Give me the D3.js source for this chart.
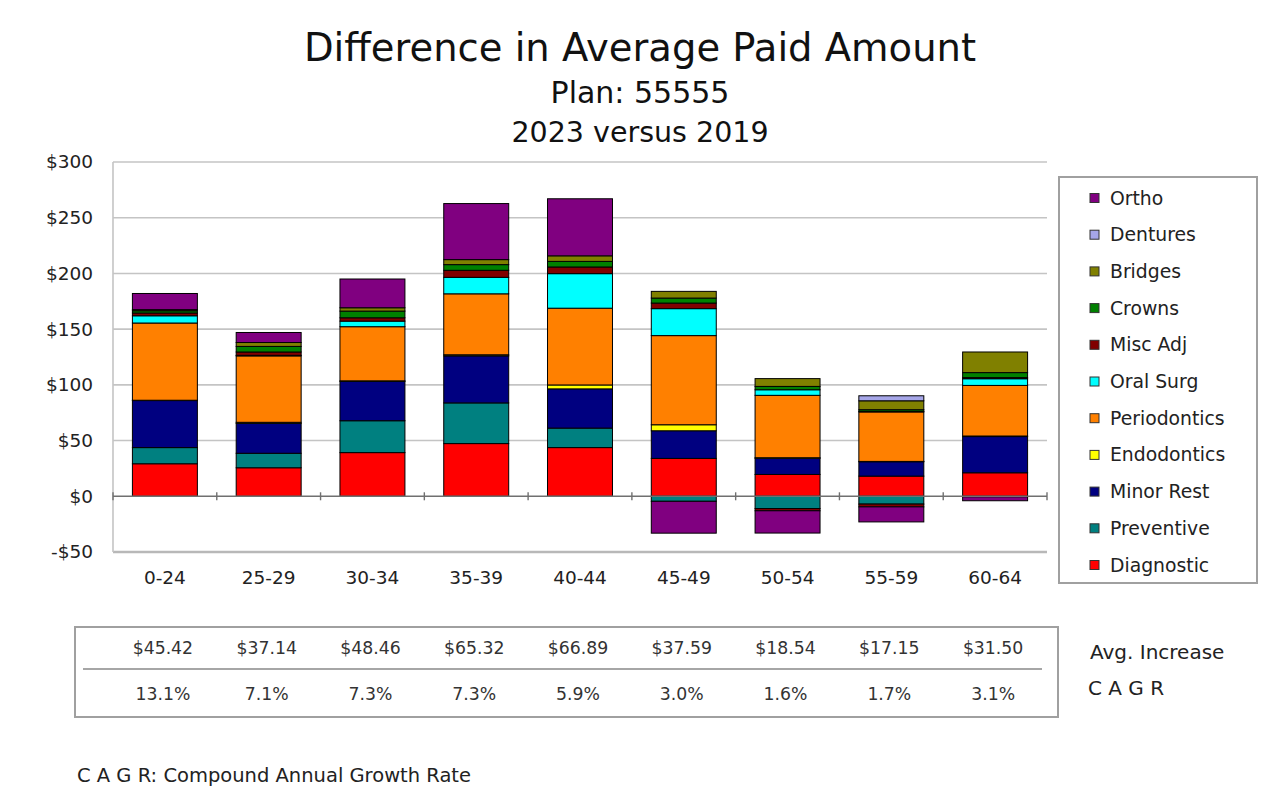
<!DOCTYPE html>
<html>
<head>
<meta charset="utf-8">
<script src="https://cdn.jsdelivr.net/npm/d3@7"></script>
<style>
  html, body { margin: 0; padding: 0; background: #fff; }
  svg { display: block; font-family: "DejaVu Sans", Verdana, sans-serif; }
</style>
</head>
<body>
<svg id="chart" width="1280" height="803"></svg>
<script>
// ---------- DATA ----------
const categories = ["0-24","25-29","30-34","35-39","40-44","45-49","50-54","55-59","60-64"];
const seriesNames = ["Diagnostic","Preventive","Minor Rest","Endodontics","Periodontics","Oral Surg","Misc Adj","Crowns","Bridges","Dentures","Ortho"];
const diagnostic   = [29.2, 25.6, 39.2, 47.3, 43.7, 34.0, 19.6, 18.1, 21.1];
const preventive   = [14.5, 13.0, 28.6, 36.5, 17.5, -4.5, -11.0, -7.0, -0.5];
const minorRest    = [42.2, 26.8, 35.3, 42.2, 35.2, 24.8, 14.5, 12.9, 32.5];
const endodontics  = [0.3, 1.0, 0.5, 1.0, 3.5, 5.4, 0.5, 0.3, 0.5];
const periodontics = [69.3, 59.6, 48.6, 54.7, 68.9, 80.0, 56.0, 44.4, 45.4];
const oralSurg     = [6.5, 0.5, 5.0, 14.8, 31.0, 24.2, 5.0, 0.5, 6.0];
const miscAdj      = [2.5, 3.0, 3.0, 6.3, 6.0, 5.0, -2.0, -2.5, 1.0];
const crowns       = [2.0, 5.0, 6.0, 5.1, 5.0, 4.5, 3.0, 1.5, 4.5];
const bridges      = [1.0, 3.5, 3.0, 4.5, 5.0, 6.0, 7.0, 8.0, 18.5];
const dentures     = [0, 0, 0, 0, 0, 0, 0, 4.5, 0];
const ortho        = [14.5, 9.0, 25.8, 50.3, 51.2, -28.6, -20.0, -13.5, -3.5];
const seriesValues = [diagnostic, preventive, minorRest, endodontics, periodontics, oralSurg, miscAdj, crowns, bridges, dentures, ortho];
const seriesColors = ["#FF0000","#008080","#000080","#FFFF00","#FF8000","#00FFFF","#800000","#008000","#808000","#A6A6E8","#800080"];
const yTicks = [-50, 0, 50, 100, 150, 200, 250, 300];
const avgIncrease = ["$45.42","$37.14","$48.46","$65.32","$66.89","$37.59","$18.54","$17.15","$31.50"];
const cagr = ["13.1%","7.1%","7.3%","7.3%","5.9%","3.0%","1.6%","1.7%","3.1%"];

// ---------- LAYOUT ----------
const svg = d3.select("#chart");
const plot = { left: 113, right: 1047, top: 162, bottom: 552 };
const textColor = "#222";

const x = d3.scaleBand().domain(categories).range([plot.left, plot.right]).paddingInner(0.374).paddingOuter(0.187);
const y = d3.scaleLinear().domain([-50, 300]).range([plot.bottom, plot.top]);

// Titles
svg.append("text").attr("x", 640).attr("y", 61).attr("text-anchor", "middle")
  .attr("font-size", 38.5).attr("fill", "#111").text("Difference in Average Paid Amount");
svg.append("text").attr("x", 640).attr("y", 103).attr("text-anchor", "middle")
  .attr("font-size", 30).attr("fill", "#111").text("Plan: 55555");
svg.append("text").attr("x", 640).attr("y", 142).attr("text-anchor", "middle")
  .attr("font-size", 28.5).attr("fill", "#111").text("2023 versus 2019");

// Gridlines
svg.append("g").selectAll("line").data(yTicks.filter(d => d !== 0)).join("line")
  .attr("x1", plot.left).attr("x2", plot.right)
  .attr("y1", d => y(d)).attr("y2", d => y(d))
  .attr("stroke", d => d === -50 ? "#b8b8b8" : "#c4c4c4")
  .attr("stroke-width", d => d === -50 ? 2.5 : 1.6);
// left axis line
svg.append("line").attr("x1", plot.left).attr("x2", plot.left)
  .attr("y1", plot.top).attr("y2", plot.bottom).attr("stroke", "#c4c4c4").attr("stroke-width", 1.6);

// Y axis labels
const yAxis = d3.axisLeft(y).tickValues(yTicks).tickSize(0).tickPadding(0)
  .tickFormat(d => (d < 0 ? "-$" : "$") + Math.abs(d));
const yg = svg.append("g").attr("transform", `translate(${93},0)`).call(yAxis);
yg.select(".domain").remove();
yg.selectAll("text").attr("font-size", 18.5).attr("fill", textColor)
  .attr("font-family", "DejaVu Sans, Verdana, sans-serif");

// Stacked bars
const rows = categories.map((c, i) => {
  const r = { cat: c };
  seriesNames.forEach((s, k) => r[s] = seriesValues[k][i]);
  return r;
});
const stack = d3.stack().keys(seriesNames).offset(d3.stackOffsetDiverging).order(d3.stackOrderNone);
const layers = stack(rows);

const gBars = svg.append("g");
layers.forEach((layer, k) => {
  gBars.append("g").selectAll("rect").data(layer.filter(d => d[1] !== d[0])).join("rect")
    .attr("x", d => x(d.data.cat))
    .attr("width", x.bandwidth())
    .attr("y", d => y(Math.max(d[0], d[1])))
    .attr("height", d => Math.abs(y(d[0]) - y(d[1])))
    .attr("fill", seriesColors[k])
    .attr("stroke", "#000").attr("stroke-width", 1);
});

// Zero axis with tick marks at category boundaries
svg.append("line").attr("x1", plot.left).attr("x2", plot.right)
  .attr("y1", y(0)).attr("y2", y(0)).attr("stroke", "#707070").attr("stroke-width", 1.6);
const boundaries = categories.map(c => x(c) - x.step() * x.paddingInner() / 2).concat([plot.right]);
svg.append("g").selectAll("line").data(boundaries).join("line")
  .attr("x1", d => d).attr("x2", d => d)
  .attr("y1", y(0) - 4).attr("y2", y(0) + 4)
  .attr("stroke", "#707070").attr("stroke-width", 1.4);

// X axis labels
const xAxis = d3.axisBottom(x).tickSize(0).tickPadding(0);
const xg = svg.append("g").attr("transform", `translate(0,${578})`).call(xAxis);
xg.select(".domain").remove();
xg.selectAll("text").attr("font-size", 18.5).attr("fill", textColor)
  .attr("font-family", "DejaVu Sans, Verdana, sans-serif").attr("dy", "0.35em");

// Legend
const legend = svg.append("g");
legend.append("rect").attr("x", 1059).attr("y", 177).attr("width", 198).attr("height", 406)
  .attr("fill", "#fff").attr("stroke", "#a0a0a0").attr("stroke-width", 2);
const legendOrder = seriesNames.map((s, k) => k).reverse();
legendOrder.forEach((k, i) => {
  const ly = 198 + i * 36.7;
  legend.append("rect").attr("x", 1090).attr("y", ly - 4.5).attr("width", 9).attr("height", 9)
    .attr("fill", seriesColors[k]).attr("stroke", "#333").attr("stroke-width", 1);
  legend.append("text").attr("x", 1110).attr("y", ly).attr("dy", "0.35em")
    .attr("font-size", 18.8).attr("fill", textColor).text(seriesNames[k]);
});

// Table
const table = svg.append("g");
table.append("rect").attr("x", 75).attr("y", 627).attr("width", 983).attr("height", 90)
  .attr("fill", "none").attr("stroke", "#a0a0a0").attr("stroke-width", 2);
table.append("line").attr("x1", 83).attr("x2", 1042).attr("y1", 669).attr("y2", 669)
  .attr("stroke", "#888").attr("stroke-width", 1.6);
table.append("g").selectAll("text").data(categories).join("text")
  .attr("x", d => x(d) + x.bandwidth() / 2 - 2).attr("y", 648).attr("dy", "0.35em")
  .attr("text-anchor", "middle").attr("font-size", 17.3).attr("fill", "#333")
  .text((d, i) => avgIncrease[i]);
table.append("g").selectAll("text").data(categories).join("text")
  .attr("x", d => x(d) + x.bandwidth() / 2 - 2).attr("y", 694).attr("dy", "0.35em")
  .attr("text-anchor", "middle").attr("font-size", 17.3).attr("fill", "#333")
  .text((d, i) => cagr[i]);
svg.append("text").attr("x", 1090).attr("y", 652).attr("dy", "0.35em")
  .attr("font-size", 20).attr("fill", textColor).text("Avg. Increase");
svg.append("text").attr("x", 1088).attr("y", 688).attr("dy", "0.35em")
  .attr("font-size", 20).attr("fill", textColor).text("C A G R");

// Footnote
svg.append("text").attr("x", 77).attr("y", 775).attr("dy", "0.35em")
  .attr("font-size", 19.5).attr("fill", textColor).text("C A G R: Compound Annual Growth Rate");
</script>
</body>
</html>
